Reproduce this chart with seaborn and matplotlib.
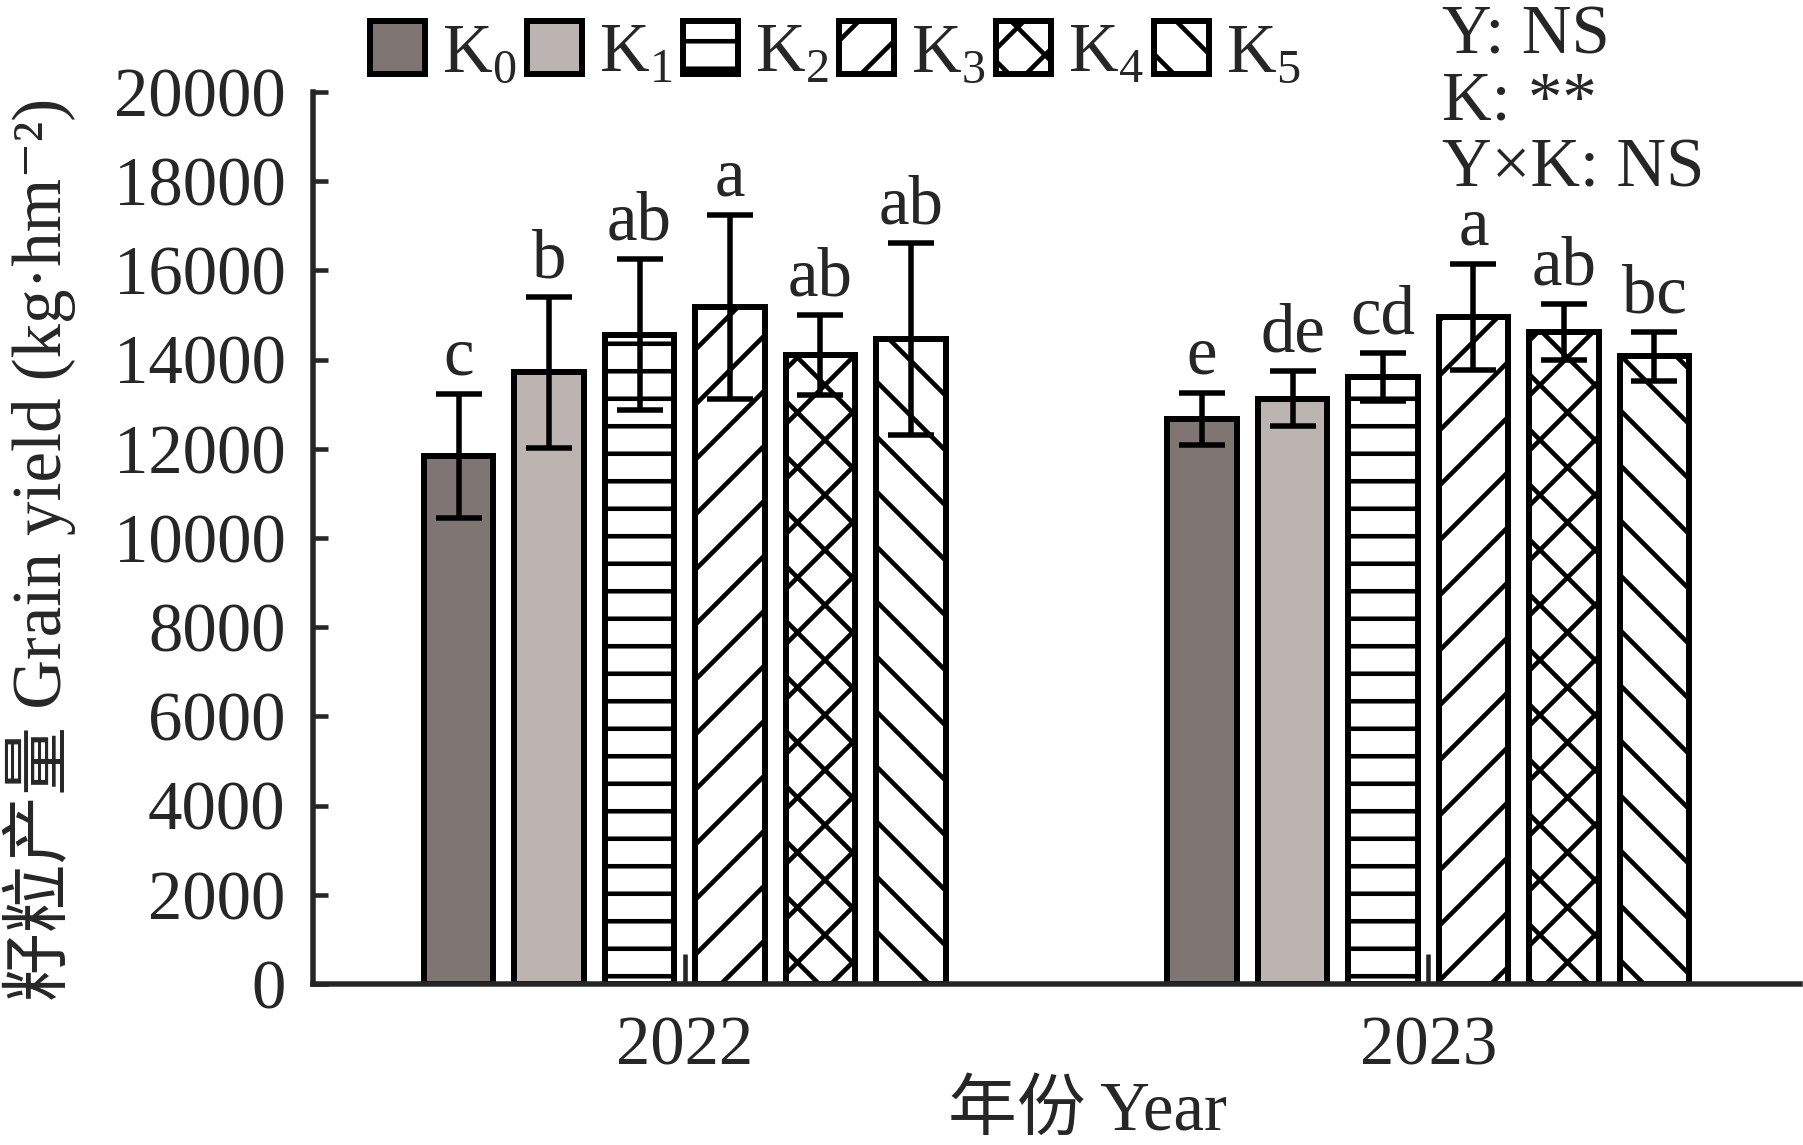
import pandas as pd
import seaborn as sns
import matplotlib.pyplot as plt

# chart values
years = ["2022", "2023"]
treatments = ["K0", "K1", "K2", "K3", "K4", "K5"]
legend_labels = [r"K$_\mathregular{0}$", r"K$_\mathregular{1}$", r"K$_\mathregular{2}$",
                 r"K$_\mathregular{3}$", r"K$_\mathregular{4}$", r"K$_\mathregular{5}$"]
yield_2022 = [11830, 13710, 14560, 15180, 14100, 14460]
yield_2023 = [12660, 13120, 13610, 14950, 14610, 14070]
err_2022 = [1390, 1700, 1700, 2070, 890, 2150]
err_2023 = [580, 620, 530, 1190, 630, 540]
letters_2022 = ["c", "b", "ab", "a", "ab", "ab"]
letters_2023 = ["e", "de", "cd", "a", "ab", "bc"]
stats_text = ["Y: NS", "K: **", "Y×K: NS"]

fill_colors = ["#7f7674", "#bbb4b1", "white", "white", "white", "white"]
hatches = ["", "", "-", "/", "x", "\\"]


def build_frame():
    """Long-form table for seaborn."""
    rows = []
    for year, vals, errs, lets in [(years[0], yield_2022, err_2022, letters_2022),
                                   (years[1], yield_2023, err_2023, letters_2023)]:
        for t, v, e, l in zip(treatments, vals, errs, lets):
            rows.append({"year": year, "treatment": t, "yield": v, "err": e, "letter": l})
    return pd.DataFrame(rows)


data = build_frame()

sns.set_style("ticks")
plt.rcParams["font.family"] = ["Liberation Serif", "Noto Sans CJK SC", "DejaVu Serif"]
plt.rcParams["mathtext.fontset"] = "custom"
plt.rcParams["mathtext.rm"] = "Liberation Serif"
plt.rcParams["hatch.linewidth"] = 2.0

FS = 30
fig = plt.figure(figsize=(1803 / 165, 1145 / 165), dpi=165)
ax = fig.add_axes([0.1736, 0.1406, 0.8247, 0.7791])

sns.barplot(data=data, x="year", y="yield", hue="treatment", order=years,
            hue_order=treatments, palette=fill_colors, width=0.73, gap=0.23,
            errorbar=None, legend=False, edgecolor="black", linewidth=2.6,
            saturation=1, ax=ax)
bar_containers = list(ax.containers)

# hatches, error bars and letters per treatment
for i, cont in enumerate(bar_containers):
    sub = data[data["treatment"] == treatments[i]].set_index("year").loc[years]
    xs, hs = [], []
    for patch in cont.patches:
        patch.set_hatch(hatches[i])
        patch.set_facecolor(fill_colors[i])
        xs.append(patch.get_x() + patch.get_width() / 2)
        hs.append(patch.get_height())
    ax.errorbar(xs, hs, yerr=sub["err"].values, fmt="none", ecolor="black",
                elinewidth=2.4, capsize=10, capthick=2.4, zorder=5)
    for x, h, e, lab in zip(xs, hs, sub["err"].values, sub["letter"].values):
        ax.annotate(lab, (x, h + e), xytext=(0, 2), textcoords="offset points",
                    ha="center", va="bottom", fontsize=FS)

ax.set_xlim(-0.5, 1.5)
ax.set_ylim(0, 20000)
ax.set_yticks(range(0, 20001, 2000))
ax.set_xlabel("")
ax.set_ylabel("")
ax.tick_params(axis="y", direction="in", length=6.5, width=2, pad=12, labelsize=FS)
ax.tick_params(axis="x", direction="in", length=13, width=2, pad=14, labelsize=FS)
for side in ["top", "right"]:
    ax.spines[side].set_visible(False)
for side in ["left", "bottom"]:
    ax.spines[side].set_linewidth(2.4)

fig.text(0.022, 0.52, "籽粒产量 Grain yield (kg·hm⁻²)", rotation=90,
         ha="center", va="center", fontsize=30)
fig.text(0.603, 0.028, "年份 Year", ha="center", va="center", fontsize=FS)

ax.legend(bar_containers, legend_labels, loc="center left",
          bbox_to_anchor=(0.205, 0.953), bbox_transform=fig.transFigure,
          ncol=6, frameon=False, fontsize=FS, handlelength=0.8, handleheight=0.8,
          handletextpad=0.25, columnspacing=0.15, borderpad=0, borderaxespad=0)

for txt, y in zip(stats_text, [0.968, 0.910, 0.852]):
    fig.text(0.800, y, txt, ha="left", va="center", fontsize=FS)

fig.savefig("out.png", dpi=165)
